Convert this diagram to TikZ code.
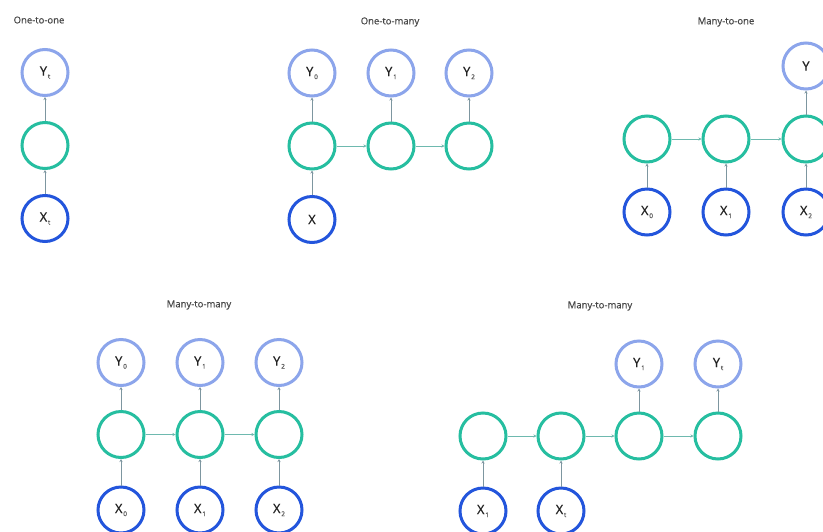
\documentclass[tikz,border=0pt]{standalone}
\usepackage{fontspec}
\setmainfont{Open Sans}
\newfontfamily\labfont[FakeBold=0.6]{Open Sans}
\newfontfamily\ttlfont[FakeBold=0.4]{Open Sans}
\usetikzlibrary{arrows.meta}
\definecolor{ycol}{RGB}{140,165,235}
\definecolor{hcol}{RGB}{38,190,160}
\definecolor{xcol}{RGB}{35,85,220}
\definecolor{acol}{RGB}{125,150,160}
\definecolor{hacol}{RGB}{110,185,175}
\definecolor{tcol}{RGB}{70,70,70}
\definecolor{lcol}{RGB}{35,35,35}
\definecolor{scol}{RGB}{90,90,90}
\tikzset{
 cell/.style={circle, minimum size=46pt, inner sep=0pt, line width=3pt, fill=white, font=\labfont\fontsize{13}{13}\selectfont, text=lcol},
 ynode/.style={cell, draw=ycol},
 hnode/.style={cell, draw=hcol},
 xnode/.style={cell, draw=xcol},
 conn/.style={draw=acol, line width=0.7pt, -{Stealth[length=3pt,width=3pt]}},
 hconn/.style={draw=hacol, line width=0.7pt, -{Stealth[length=3pt,width=3pt]}},
 title/.style={font=\ttlfont\fontsize{9.5}{9.5}\selectfont, text=tcol},
}
\newcommand{\lab}[2]{#1\kern0.8pt\raisebox{-3pt}{\fontsize{6.5}{6.5}\selectfont\color{scol}#2}}
\begin{document}
\begin{tikzpicture}[x=1pt,y=-1pt]
\useasboundingbox (0,0) rectangle (823,531);
\fill[white] (0,0) rectangle (823,531);
% One-to-one
\node[title] (t1) at (39,20) {One-to-one};
\node[ynode] (a1y) at (45,72.5) {\lab{Y}{t}};
\node[hnode] (a1h) at (45,145.5) {};
\node[xnode] (a1x) at (45,218.5) {\lab{X}{t}};
\draw[conn] (a1x) -- (a1h);
\draw[conn] (a1h) -- (a1y);
% One-to-many
\node[title] (t2) at (390,22) {One-to-many};
\foreach \i/\x/\s in {1/312/0,2/391/1,3/469/2}{
  \node[ynode] (b\i y) at (\x,73) {\lab{Y}{\s}};
  \node[hnode] (b\i h) at (\x,146) {};
  \draw[conn] (b\i h) -- (b\i y);
}
\node[xnode] (b1x) at (312,219.5) {X};
\draw[conn] (b1x) -- (b1h);
\draw[hconn] (b1h) -- (b2h);
\draw[hconn] (b2h) -- (b3h);
% Many-to-one
\node[title] (t3) at (726,22) {Many-to-one};
\foreach \i/\x/\s in {1/647/0,2/726/1,3/806/2}{
  \node[hnode] (c\i h) at (\x,139) {};
  \node[xnode] (c\i x) at (\x,212) {\lab{X}{\s}};
  \draw[conn] (c\i x) -- (c\i h);
}
\node[ynode] (c3y) at (806,66) {Y};
\draw[conn] (c3h) -- (c3y);
\draw[hconn] (c1h) -- (c2h);
\draw[hconn] (c2h) -- (c3h);
% Many-to-many (1)
\node[title] (t4) at (199,305) {Many-to-many};
\foreach \i/\x/\s in {1/121/0,2/200/1,3/279/2}{
  \node[ynode] (d\i y) at (\x,362.5) {\lab{Y}{\s}};
  \node[hnode] (d\i h) at (\x,434.5) {};
  \node[xnode] (d\i x) at (\x,510) {\lab{X}{\s}};
  \draw[conn] (d\i x) -- (d\i h);
  \draw[conn] (d\i h) -- (d\i y);
}
\draw[hconn] (d1h) -- (d2h);
\draw[hconn] (d2h) -- (d3h);
% Many-to-many (2)
\node[title] (t5) at (600,306) {Many-to-many};
\foreach \i/\x in {1/483,2/561,3/639,4/718}{
  \node[hnode] (e\i h) at (\x,436) {};
}
\node[xnode] (e1x) at (483,511) {\lab{X}{1}};
\node[xnode] (e2x) at (561,511) {\lab{X}{t}};
\node[ynode] (e3y) at (639,364) {\lab{Y}{1}};
\node[ynode] (e4y) at (718,364) {\lab{Y}{t}};
\draw[conn] (e1x) -- (e1h);
\draw[conn] (e2x) -- (e2h);
\draw[conn] (e3h) -- (e3y);
\draw[conn] (e4h) -- (e4y);
\draw[hconn] (e1h) -- (e2h);
\draw[hconn] (e2h) -- (e3h);
\draw[hconn] (e3h) -- (e4h);
\end{tikzpicture}
\end{document}
